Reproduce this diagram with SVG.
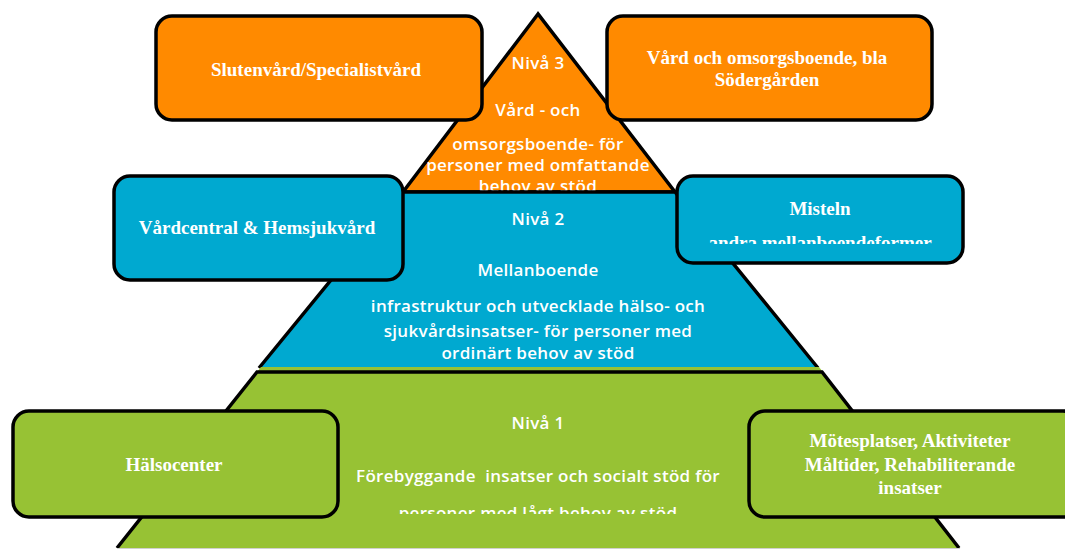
<svg xmlns="http://www.w3.org/2000/svg" width="1065" height="550" viewBox="0 0 1065 550">
<style>
.box{stroke:#000;stroke-width:3.5}
.or{fill:#FF8A00}
.bl{fill:#00A9D0}
.gr{fill:#97C234}
.edge{fill:none;stroke:#000;stroke-width:3.5;stroke-linejoin:miter}
.pt{font-family:"Open Sans","Liberation Sans",sans-serif;font-weight:600;font-size:17px;letter-spacing:0.3px;fill:#fff;text-anchor:middle}
.bt{font-family:"Liberation Serif","Times New Roman",serif;font-weight:bold;font-size:19px;fill:#fff;text-anchor:middle}
</style>
<defs>
<clipPath id="clipMist"><rect x="600" y="170" width="400" height="74"/></clipPath>
<clipPath id="clipL1"><rect x="300" y="380" width="500" height="134"/></clipPath>
</defs>
<rect width="1065" height="550" fill="#fff"/>
<g id="level3">
<polygon class="or" points="538,14 403,192 675,192" stroke="#000" stroke-width="3.5"/>
<text class="pt" x="538" y="69">Nivå 3</text>
<text class="pt" x="538" y="116">Vård - och</text>
<text class="pt" x="538" y="150">omsorgsboende- för</text>
<text class="pt" x="538" y="171">personer med omfattande</text>
<text class="pt" x="538" y="192">behov av stöd</text>
</g>
<g id="level2">
<polygon class="bl" points="403,192 675,192 818,368 259,368"/>
<path class="edge" d="M259,368 L403,192 L675,192 L818,368"/>
<text class="pt" x="538" y="225">Nivå 2</text>
<text class="pt" x="538" y="276">Mellanboende</text>
<text class="pt" x="538" y="312">infrastruktur och utvecklade hälso- och</text>
<text class="pt" x="538" y="337">sjukvårdsinsatser- för personer med</text>
<text class="pt" x="538" y="359">ordinärt behov av stöd</text>
</g>
<g id="level1">
<polygon class="gr" points="261,367 819,367 960,548 117,548"/>
<path class="edge" d="M117,548 L257,372 L822,372 L959,548"/>
<line x1="117" y1="548.5" x2="960" y2="548.5" stroke="#d0d0d0" stroke-width="1"/>
<text class="pt" x="538" y="429">Nivå 1</text>
<text class="pt" x="538" y="482" xml:space="preserve">Förebyggande  insatser och socialt stöd för</text>
<text class="pt" x="538" y="519" clip-path="url(#clipL1)">personer med lågt behov av stöd</text>
</g>
<g id="connectors"></g>
<g id="slutenvard">
<rect class="box or" x="156" y="16" width="326" height="104" rx="16"/>
<text class="bt" x="316" y="76">Slutenvård/Specialistvård</text>
</g>
<g id="vardboende">
<rect class="box or" x="607" y="16" width="325" height="104" rx="16"/>
<text class="bt" x="767" y="64">Vård och omsorgsboende, bla</text>
<text class="bt" x="767" y="86">Södergården</text>
</g>
<g id="vardcentral">
<rect class="box bl" x="114" y="176" width="289" height="104" rx="16"/>
<text class="bt" x="257" y="234">Vårdcentral &amp; Hemsjukvård</text>
</g>
<g id="misteln">
<rect class="box bl" x="677" y="176" width="286" height="87" rx="16"/>
<text class="bt" x="820" y="215">Misteln</text>
<text class="bt" x="820" y="249" clip-path="url(#clipMist)">andra mellanboendeformer</text>
</g>
<g id="halsocenter">
<rect class="box gr" x="13" y="411" width="325" height="106" rx="16"/>
<text class="bt" x="174" y="471">Hälsocenter</text>
</g>
<g id="motesplatser">
<rect class="box gr" x="749" y="411" width="330" height="106" rx="16"/>
<text class="bt" x="910" y="447">Mötesplatser, Aktiviteter</text>
<text class="bt" x="910" y="471">Måltider, Rehabiliterande</text>
<text class="bt" x="910" y="494">insatser</text>
</g>
</svg>
